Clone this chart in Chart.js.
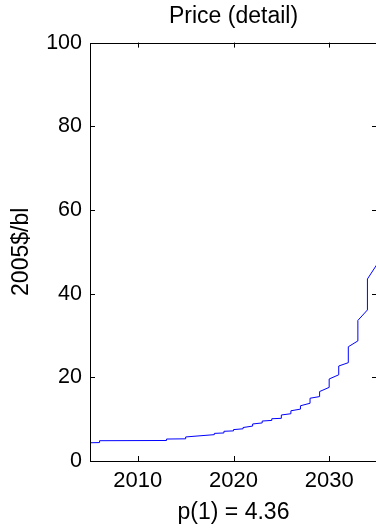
<!DOCTYPE html>
<html>
<head>
<meta charset="utf-8">
<script src="https://cdn.jsdelivr.net/npm/chart.js@4/dist/chart.umd.min.js"></script>
<style>
  html, body { margin: 0; padding: 0; background: #fff; overflow: hidden; }
  #wrap { width: 380px; height: 528px; }
</style>
</head>
<body>
<div id="wrap"><canvas id="price"></canvas></div>
<script>
'use strict';

// step boundaries (years) and price at start / end of each step
const segYears = [2005, 2006, 2013, 2015, 2018, 2019, 2020, 2021, 2022, 2023, 2024,
  2025, 2026, 2027, 2028, 2029, 2030, 2031, 2032, 2033, 2034, 2035];
const startPrice = [4.36, 4.85, 5.25, 5.75, 6.6, 7.1, 7.5, 8.0, 8.85, 9.55, 10.1,
  11.0, 12.0, 13.2, 15.0, 16.6, 19.6, 22.7, 27.3, 33.6, 43.5];
const endPrice = [4.4, 4.9, 5.3, 6.3, 6.7, 7.2, 7.7, 8.35, 9.1, 9.7, 10.2,
  11.3, 12.4, 13.8, 15.4, 17.6, 20.6, 23.5, 28.7, 36.1, 47.0];
const xTicks = [2010, 2020, 2030];
const yTicks = [0, 20, 40, 60, 80, 100];

const points = [];
startPrice.forEach((v, i) => {
  points.push({ x: segYears[i], y: v });
  points.push({ x: segYears[i + 1], y: endPrice[i] });
});

const FONT = "'Liberation Sans', Arial, Helvetica, sans-serif";

// matlab-style box with inward ticks
const boxPlugin = {
  id: 'box',
  afterDatasetsDraw(chart) {
    const { ctx, chartArea: a, scales } = chart;
    const tl = 5;
    ctx.save();
    ctx.strokeStyle = '#000';
    ctx.lineWidth = 1;
    ctx.beginPath();
    ctx.rect(Math.round(a.left) + 0.5, Math.round(a.top) + 0.5,
      Math.round(a.right - a.left), Math.round(a.bottom - a.top));
    xTicks.forEach(t => {
      const px = Math.round(scales.x.getPixelForValue(t)) + 0.5;
      ctx.moveTo(px, a.bottom); ctx.lineTo(px, a.bottom - tl);
      ctx.moveTo(px, a.top); ctx.lineTo(px, a.top + tl);
    });
    yTicks.forEach(t => {
      const py = Math.round(scales.y.getPixelForValue(t)) + 0.5;
      ctx.moveTo(a.left, py); ctx.lineTo(a.left + tl, py);
      ctx.moveTo(a.right, py); ctx.lineTo(a.right - tl, py);
    });
    ctx.stroke();
    ctx.restore();
  }
};

new Chart(document.getElementById('price'), {
  type: 'line',
  data: {
    datasets: [{
      data: points,
      borderColor: '#0000ff',
      borderWidth: 1,
      pointRadius: 0,
      fill: false,
      tension: 0
    }]
  },
  options: {
    animation: false,
    responsive: true,
    maintainAspectRatio: false,
    layout: { padding: { left: 0, right: 3, top: 0, bottom: 0 } },
    plugins: {
      legend: { display: false },
      tooltip: { enabled: false },
      title: {
        display: true,
        fullSize: false,
        text: 'Price (detail)',
        color: '#000',
        font: { family: FONT, size: 23, weight: 'normal' },
        padding: { top: 3, bottom: 12 }
      }
    },
    scales: {
      x: {
        type: 'linear',
        min: 2005,
        max: 2035,
        grid: { display: false, drawTicks: false },
        border: { display: false },
        afterBuildTicks: s => { s.ticks = xTicks.map(v => ({ value: v })); },
        ticks: {
          color: '#000',
          padding: 7,
          maxRotation: 0,
          font: { family: FONT, size: 22 },
          callback: v => String(v)
        },
        title: {
          display: true,
          text: 'p(1) = 4.36',
          color: '#000',
          font: { family: FONT, size: 23 },
          padding: { top: 0, bottom: 2 }
        },
        afterFit: s => { s.height = 67; }
      },
      y: {
        min: 0,
        max: 100,
        grid: { display: false, drawTicks: false },
        border: { display: false },
        afterBuildTicks: s => { s.ticks = yTicks.map(v => ({ value: v })); },
        ticks: {
          color: '#000',
          padding: 8,
          font: { family: FONT, size: 21.5 }
        },
        title: {
          display: true,
          text: '2005$/bl',
          color: '#000',
          font: { family: FONT, size: 23 },
          padding: { top: 8, bottom: 0 }
        },
        afterFit: s => { s.width = 90; }
      }
    }
  },
  plugins: [boxPlugin]
});
</script>
</body>
</html>
